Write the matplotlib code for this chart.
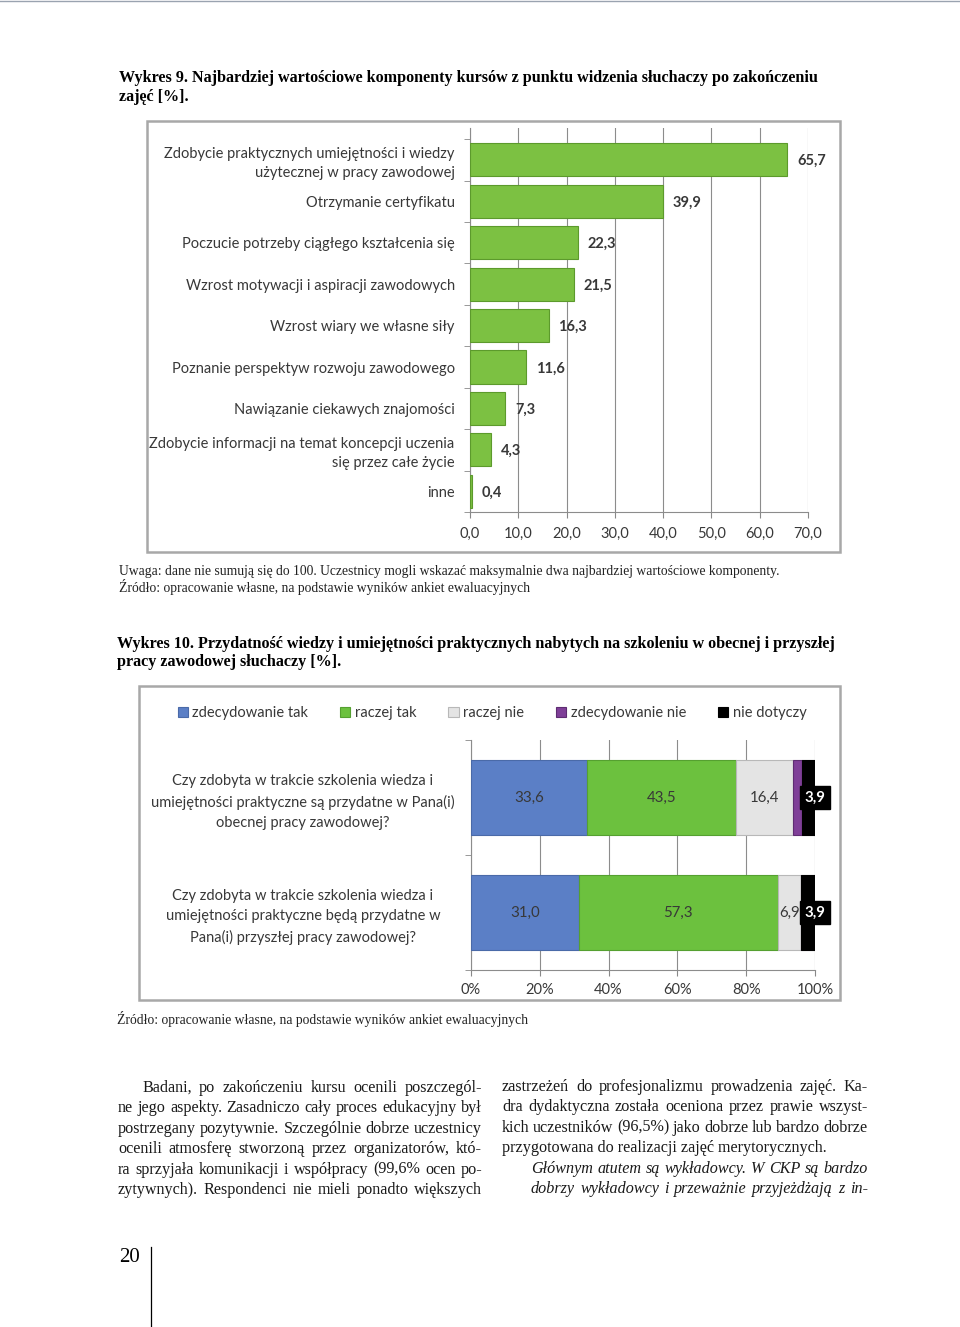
import matplotlib.pyplot as plt
from matplotlib.patches import Rectangle
from matplotlib.lines import Line2D
from matplotlib.ticker import FuncFormatter, FixedLocator

# ---- data: Wykres 9 ----
components = ['Zdobycie praktycznych umiejętności i wiedzy\nużytecznej w pracy zawodowej',
              'Otrzymanie certyfikatu',
              'Poczucie potrzeby ciągłego kształcenia się',
              'Wzrost motywacji i aspiracji zawodowych',
              'Wzrost wiary we własne siły',
              'Poznanie perspektyw rozwoju zawodowego',
              'Nawiązanie ciekawych znajomości',
              'Zdobycie informacji na temat koncepcji uczenia\nsię przez całe życie',
              'inne']
component_pct = [65.7, 39.9, 22.3, 21.5, 16.3, 11.6, 7.3, 4.3, 0.4]
x_ticks_1 = [0, 10, 20, 30, 40, 50, 60, 70]

# ---- data: Wykres 10 ----
questions = ['Czy zdobyta w trakcie szkolenia wiedza i\numiejętności praktyczne są przydatne w Pana(i)\nobecnej pracy zawodowej?',
             'Czy zdobyta w trakcie szkolenia wiedza i\numiejętności praktyczne będą przydatne w\nPana(i) przyszłej pracy zawodowej?']
answer_names = ['zdecydowanie tak', 'raczej tak', 'raczej nie', 'zdecydowanie nie', 'nie dotyczy']
zdecydowanie_tak = [33.6, 31.0]
raczej_tak = [43.5, 57.3]
raczej_nie = [16.4, 6.9]
zdecydowanie_nie = [2.6, 0.0]
nie_dotyczy = [3.9, 3.9]
x_ticks_2 = [0, 20, 40, 60, 80, 100]

W, H = 960, 1327
fig = plt.figure(figsize=(W / 100, H / 100), dpi=100)

serif = ['Liberation Serif', 'DejaVu Serif']
sans = ['Lato', 'DejaVu Sans']
CFS = 10.5  # chart font size
TXT = '#383838'


def fx(x):
    return x / W


def fy(y):
    return 1 - y / H


def px_axes(x0, y0, x1, y1):
    return fig.add_axes([fx(x0), fy(y1), fx(x1 - x0), (y1 - y0) / H])


# page top line and page-number rule
fig.add_artist(Line2D([0, 1], [fy(1), fy(1)], color='#9aa3b0', lw=1))
fig.add_artist(Line2D([fx(151), fx(151)], [fy(1247), fy(1327)], color='black', lw=0.9))
fig.text(fx(119), fy(1257), '20', fontsize=15, family=serif, va='center')

# ---- page texts ----
TFS = 11.6
NFS = 9.8
fig.text(fx(119), fy(78), 'Wykres 9. Najbardziej wartościowe komponenty kursów z punktu widzenia słuchaczy po zakończeniu',
         fontsize=TFS, fontweight='bold', family=serif, va='center')
fig.text(fx(119), fy(97), 'zajęć [%].', fontsize=TFS, fontweight='bold', family=serif, va='center')
fig.text(fx(119), fy(572), 'Uwaga: dane nie sumują się do 100. Uczestnicy mogli wskazać maksymalnie dwa najbardziej wartościowe komponenty.',
         fontsize=NFS, family=serif, va='center', color='#222222')
fig.text(fx(119), fy(587), 'Źródło: opracowanie własne, na podstawie wyników ankiet ewaluacyjnych',
         fontsize=NFS, family=serif, va='center', color='#222222')
fig.text(fx(117), fy(644), 'Wykres 10. Przydatność wiedzy i umiejętności praktycznych nabytych na szkoleniu w obecnej i przyszłej',
         fontsize=TFS, fontweight='bold', family=serif, va='center')
fig.text(fx(117), fy(662), 'pracy zawodowej słuchaczy [%].', fontsize=TFS, fontweight='bold', family=serif, va='center')
fig.text(fx(117), fy(1019), 'Źródło: opracowanie własne, na podstawie wyników ankiet ewaluacyjnych',
         fontsize=NFS, family=serif, va='center', color='#222222')

# ---- chart frames ----
fig.add_artist(Rectangle((fx(147), fy(552)), fx(840 - 147), (552 - 121) / H, fill=False,
                         edgecolor='#a8a8a8', lw=1.8))
fig.add_artist(Rectangle((fx(139), fy(1000)), fx(840 - 139), (1000 - 686) / H, fill=False,
                         edgecolor='#a8a8a8', lw=1.8))

# ---- Wykres 9 ----
ax1 = px_axes(470, 128, 808, 512)
ypos = list(range(len(components)))
ax1.barh(ypos, component_pct, height=0.8, color='#7cc142', edgecolor='#5c9a2c', lw=0.8, zorder=3)
ax1.set_xlim(0, 70)
ax1.set_ylim(len(components) - 0.5, -0.77)
ax1.set_xticks(x_ticks_1)
ax1.xaxis.set_major_formatter(FuncFormatter(lambda v, p: f'{v:.1f}'.replace('.', ',')))
ax1.set_yticks(ypos)
ax1.set_yticklabels(components, family=sans, fontsize=CFS, color=TXT, linespacing=1.45)
ax1.yaxis.set_minor_locator(FixedLocator([i + 0.5 for i in range(-1, len(components))]))
ax1.tick_params(axis='y', which='major', length=0, pad=11)
ax1.tick_params(axis='y', which='minor', length=4, color='#888888', direction='out')
ax1.tick_params(axis='x', length=4, color='#888888', labelsize=CFS, labelcolor=TXT, pad=7)
for lab in ax1.get_xticklabels():
    lab.set_family(sans)
ax1.grid(axis='x', color='#8c8c8c', lw=0.8, zorder=0)
for s in ['top', 'right']:
    ax1.spines[s].set_visible(False)
for s in ['left', 'bottom']:
    ax1.spines[s].set_color('#8c8c8c')
for i, v in enumerate(component_pct):
    ax1.annotate(f'{v:.1f}'.replace('.', ','), (v, i), xytext=(7, -1), textcoords='offset points',
                 ha='left', va='center', fontsize=CFS, fontweight='bold', family=sans, color=TXT)

# ---- Wykres 10 ----
ax2 = px_axes(471, 740, 815, 970)
series = [zdecydowanie_tak, raczej_tak, raczej_nie, zdecydowanie_nie, nie_dotyczy]
colors = ['#5b7fc6', '#6cc13e', '#e4e4e4', '#7f3f98', '#000000']
edges = ['#4a6aa8', '#55a030', '#b8b8b8', '#5e2c72', '#000000']
totals = [sum(s[i] for s in series) for i in range(len(questions))]
qpos = list(range(len(questions)))
left = [0.0] * len(questions)
for k, (vals, c, ec) in enumerate(zip(series, colors, edges)):
    widths = [v / t * 100 for v, t in zip(vals, totals)]
    ax2.barh(qpos, widths, left=left, height=0.65, color=c, edgecolor=ec, lw=0.8,
             label=answer_names[k], zorder=3)
    for i, (v, w) in enumerate(zip(vals, widths)):
        if v <= 0 or k == 3:
            continue
        lab = f'{v:.1f}'.replace('.', ',')
        if k == 4:
            ax2.text(left[i] + w / 2 + 2.0, i, lab, ha='center', va='center', fontsize=CFS + 0.3,
                     fontweight='bold', family=sans, color='white', zorder=5,
                     bbox=dict(boxstyle='square,pad=0.3', fc='black', ec='black'))
        else:
            ax2.text(left[i] + w / 2, i, lab, ha='center', va='center', fontsize=CFS + 0.3,
                     family=sans, color=TXT, zorder=5)
    left = [l + w for l, w in zip(left, widths)]
ax2.set_xlim(0, 100)
ax2.set_ylim(1.5, -0.5)
ax2.set_xticks(x_ticks_2)
ax2.set_xticklabels([f'{t}%' for t in x_ticks_2], family=sans)
ax2.set_yticks(qpos)
ax2.set_yticklabels(questions, family=sans, fontsize=CFS, color=TXT, ha='center', linespacing=1.55)
ax2.yaxis.set_minor_locator(FixedLocator([-0.5, 0.5, 1.5]))
ax2.tick_params(axis='y', which='major', length=0, pad=121)
ax2.tick_params(axis='y', which='minor', length=4, color='#888888')
ax2.tick_params(axis='x', length=4, color='#888888', labelsize=CFS, labelcolor=TXT, pad=5)
ax2.grid(axis='x', color='#8c8c8c', lw=0.8, zorder=0)
for s in ['top', 'right']:
    ax2.spines[s].set_visible(False)
for s in ['left', 'bottom']:
    ax2.spines[s].set_color('#8c8c8c')
fig.legend(loc='center', bbox_to_anchor=(fx(492), fy(713)), ncol=5, frameon=False,
           prop={'family': sans, 'size': CFS}, handlelength=0.7, handleheight=0.7,
           handletextpad=0.3, columnspacing=2.2, labelcolor=TXT)

# ---- body text (justified columns) ----
renderer = fig.canvas.get_renderer()
BODY_FS = 11.6


def text_width(s, style):
    t = fig.text(0, 0, s, fontsize=BODY_FS, family=serif, style=style)
    w = t.get_window_extent(renderer).width
    t.remove()
    return w


def put_line(x0, x1, y, line, justify=True, style='normal'):
    words = line.split(' ')
    if not justify or len(words) < 2:
        fig.text(fx(x0), fy(y), line, fontsize=BODY_FS, family=serif, style=style, va='center', color='#1a1a1a')
        return
    widths = [text_width(w, style) for w in words]
    gap = (x1 - x0 - sum(widths)) / (len(words) - 1)
    x = x0
    for w, wd in zip(words, widths):
        fig.text(fx(x), fy(y), w, fontsize=BODY_FS, family=serif, style=style, va='center', color='#1a1a1a')
        x += wd + gap


left_col = [(142, 'Badani, po zakończeniu kursu ocenili poszczegól-', True),
            (118, 'ne jego aspekty. Zasadniczo cały proces edukacyjny był', True),
            (118, 'postrzegany pozytywnie. Szczególnie dobrze uczestnicy', True),
            (118, 'ocenili atmosferę stworzoną przez organizatorów, któ-', True),
            (118, 'ra sprzyjała komunikacji i współpracy (99,6% ocen po-', True),
            (118, 'zytywnych). Respondenci nie mieli ponadto większych', True)]
right_col = [(502, 'zastrzeżeń do profesjonalizmu prowadzenia zajęć. Ka-', True, 'normal'),
             (502, 'dra dydaktyczna została oceniona przez prawie wszyst-', True, 'normal'),
             (502, 'kich uczestników (96,5%) jako dobrze lub bardzo dobrze', True, 'normal'),
             (502, 'przygotowana do realizacji zajęć merytorycznych.', False, 'normal'),
             (531, 'Głównym atutem są wykładowcy. W CKP są bardzo', True, 'italic'),
             (531, 'dobrzy wykładowcy i przeważnie przyjeżdżają z in-', True, 'italic')]
for i, (x0, line, j) in enumerate(left_col):
    put_line(x0, 482, 1088 + i * 20.4, line, j)
for i, (x0, line, j, st) in enumerate(right_col):
    put_line(x0, 868, 1087 + i * 20.4, line, j, st)

plt.savefig('out.png', dpi=100)
plt.close(fig)
